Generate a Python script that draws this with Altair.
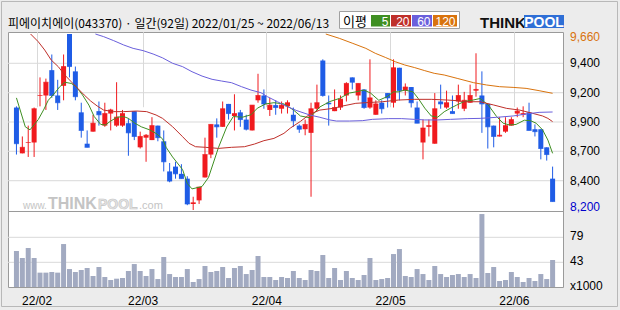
import json
import altair as alt
import pandas as pd

# ---------------- data ----------------
TITLE = "피에이치에이(043370) · 일간(92일) 2022/01/25 ~ 2022/06/13"

opens = [9050, 8670, 8760, 8760, 9150, 9150, 9360, 9150, 9230, 9660,
         9350, 9010, 8750, 8850, 9020, 8900, 9000, 8900, 8900, 8920,
         9020, 8720, 8800, 8780, 8900, 8770, 8520, 8560, 8500, 8460,
         8250, 8280, 8470, 8660, 8910, 8890, 9080, 8980, 9010, 8950,
         8860, 9110, 9150, 9030, 9070, 9040, 9060, 8990, 8900, 8870,
         8840, 9040, 9440, 9090, 9020, 9050, 9150, 9300, 9150, 9200,
         9050, 8990, 9090, 9170, 9090, 9380, 9190, 9220, 9050, 8760,
         8890, 8750, 9100, 9050, 9020, 9100, 9040, 9090, 9190, 9150,
         9080, 8900, 8810, 8850, 8900, 9000, 8990, 9010, 8870, 8870,
         8720, 8460]
highs = [9060, 8810, 8900, 9050, 9300, 9290, 9490, 9280, 9490, 9660,
         9390, 9090, 8860, 8990, 9100, 9090, 9040, 9260, 9030, 8960,
         9020, 8850, 8830, 8970, 8900, 8860, 8590, 8600, 8580, 8480,
         8310, 8390, 8800, 8910, 8960, 9100, 9080, 9160, 9030, 8990,
         9070, 9330, 9200, 9130, 9110, 9100, 9110, 9050, 8910, 8950,
         9090, 9240, 9450, 9150, 9200, 9150, 9260, 9300, 9250, 9200,
         9450, 9110, 9110, 9170, 9450, 9380, 9250, 9220, 9100, 8950,
         8950, 9170, 9240, 9190, 9150, 9240, 9180, 9240, 9500, 9350,
         9080, 8900, 8970, 8970, 8970, 9050, 9060, 9090, 8910, 8870,
         8720, 8560]
lows = [8660, 8670, 8640, 8640, 9060, 9030, 9130, 9030, 9110, 9300,
        9110, 8800, 8720, 8850, 8900, 8890, 8860, 8890, 8890, 8650,
        8780, 8710, 8600, 8780, 8770, 8520, 8430, 8460, 8460, 8240,
        8200, 8250, 8470, 8630, 8800, 8890, 8950, 8860, 8890, 8860,
        8860, 9090, 9040, 8980, 8990, 9000, 9000, 8890, 8840, 8820,
        8310, 9020, 9140, 8900, 9020, 9030, 9100, 9200, 9110, 9040,
        9040, 8990, 9000, 9050, 9050, 9110, 9150, 9050, 8920, 8620,
        8810, 8750, 9040, 9040, 9000, 9040, 9020, 9090, 9140, 8840,
        8710, 8720, 8810, 8840, 8900, 8970, 8970, 8860, 8810, 8620,
        8610, 8270]
closes = [8750, 8720, 8760, 9040, 9150, 9260, 9150, 9090, 9390, 9390,
          9140, 8860, 8720, 8920, 8990, 9000, 9030, 8970, 9000, 8840,
          8810, 8810, 8820, 8900, 8800, 8600, 8440, 8500, 8460, 8250,
          8260, 8390, 8660, 8910, 8890, 9040, 9000, 9000, 8950, 8870,
          9070, 9150, 9080, 9070, 9050, 9070, 9090, 8940, 8870, 8910,
          9040, 9090, 9150, 9080, 9050, 9120, 9250, 9260, 9250, 9050,
          9130, 9080, 9040, 9130, 9380, 9190, 9220, 9090, 8920, 8880,
          8900, 9040, 9080, 9090, 9000, 9150, 9110, 9150, 9200, 9080,
          8890, 8810, 8820, 8900, 8950, 9020, 9000, 8860, 8850, 8710,
          8660, 8270]
volumes = [59.3, 49.2, 63.6, 49.2, 28.1, 28.1, 29.0, 28.1, 69.3, 33.3,
           29.0, 31.9, 34.8, 23.3, 36.2, 21.8, 17.5, 19.4, 20.4, 30.5,
           40.5, 30.5, 23.3, 33.3, 18.9, 50.6, 26.1, 21.8, 21.8, 33.3,
           14.6, 18.9, 37.7, 29.0, 30.5, 36.2, 20.4, 34.8, 37.7, 26.1,
           31.9, 52.1, 21.8, 21.8, 17.5, 21.8, 20.4, 30.5, 20.4, 17.5,
           31.9, 30.5, 53.5, 20.4, 34.8, 17.5, 30.5, 20.4, 17.5, 24.7,
           49.2, 17.5, 18.9, 20.4, 54.9, 62.1, 23.3, 21.8, 33.3, 26.1,
           17.5, 37.7, 26.1, 21.8, 24.7, 26.1, 21.8, 26.1, 20.4, 112.5,
           27.6, 36.2, 16.1, 17.5, 29.0, 21.8, 14.6, 20.4, 16.1, 26.1,
           18.9, 46.3]

ma5_i = [0, 1.5, 2.3, 3.7, 4.6, 5.4, 6.5, 7.3, 8.2, 9.3, 10.1, 11.2, 12.3, 13.2,
         14.3, 15.1, 15.9, 17.1, 18.2, 19.0, 20.1, 21.2, 22.6, 23.7, 24.8, 25.4,
         26.5, 28.2, 29.0, 29.8, 31.5, 32.6, 34.3, 35.7, 36.8, 38.4, 39.8, 40.9,
         42.3, 43.7, 45.4, 47.0, 48.2, 49.8, 51.5, 53.2, 54.8, 56.5, 57.6, 59.0,
         60.1, 61.5, 62.9, 64.0, 64.8, 65.9, 67.3, 68.2, 69.3, 70.4, 71.5, 72.6,
         73.7, 74.7, 76.0, 77.3, 78.7, 80.1, 81.5, 82.6, 83.7, 84.8, 86.2, 87.3,
         88.2, 89.3, 90.2, 91.0]
ma5_p = [9130, 8890, 8865, 8950, 9030, 9110, 9170, 9220, 9260, 9250, 9225, 9155,
         9070, 8975, 8910, 8905, 8935, 8970, 8975, 8960, 8920, 8890, 8865, 8835,
         8790, 8720, 8640, 8535, 8420, 8375, 8395, 8470, 8720, 8890, 8975, 8970,
         8990, 9045, 9080, 9090, 9080, 9030, 8980, 8965, 9055, 9100, 9125, 9170,
         9180, 9195, 9170, 9110, 9140, 9180, 9180, 9195, 9180, 9125, 9045, 8980,
         8970, 9015, 9045, 9070, 9100, 9110, 9125, 9070, 8975, 8920, 8905, 8910,
         8945, 8940, 8920, 8865, 8780, 8670]

ma20_i = [2.4, 3.7, 4.8, 5.9, 7.1, 8.2, 9.3, 10.4, 11.5, 12.6, 13.7, 14.8, 16.5,
          18.2, 20.4, 22.1, 23.7, 24.8, 26.5, 28.2, 29.3, 30.4, 32.1, 34.3, 36.5,
          38.7, 40.4, 42.0, 43.7, 45.4, 46.5, 48.2, 49.8, 51.5, 53.7, 55.4, 57.6,
          59.3, 62.1, 64.8, 67.6, 70.4, 73.2, 74.8, 76.0, 78.7, 81.0, 83.2, 85.4,
          87.6, 89.3, 90.2, 91.0]
ma20_p = [9660, 9596, 9527, 9444, 9389, 9320, 9264, 9209, 9154, 9104, 9063, 9029,
          9016, 9016, 9021, 9016, 8988, 8960, 8891, 8808, 8753, 8725, 8720, 8711,
          8720, 8725, 8747, 8775, 8794, 8836, 8880, 8935, 8995, 9029, 9043, 9063,
          9085, 9090, 9098, 9112, 9118, 9118, 9112, 9107, 9098, 9098, 9071, 9043,
          9029, 9002, 8980, 8960, 8933]

ma60_i = [13.4, 14.8, 16.5, 18.2, 19.8, 21.5, 23.2, 24.8, 26.5, 28.2, 29.8, 31.5,
          33.2, 34.8, 36.5, 38.2, 39.8, 41.5, 42.6, 44.3, 46.0, 47.6, 49.8, 51.5,
          53.2, 54.3, 56.5, 58.7, 60.4, 63.2, 65.4, 67.6, 69.3, 71.5, 73.7, 76.5,
          78.7, 81.5, 84.3, 86.5, 88.7, 91.0]
ma60_p = [9660, 9638, 9605, 9569, 9541, 9522, 9494, 9462, 9417, 9389, 9347, 9311,
          9284, 9270, 9256, 9223, 9195, 9173, 9140, 9098, 9057, 9024, 8988, 8969,
          8947, 8938, 8938, 8941, 8952, 8958, 8958, 8952, 8947, 8947, 8952, 8958,
          8960, 8969, 8980, 8996, 9010, 9013]

ma120_i = [52.5, 54.8, 57.1, 59.3, 60.9, 62.6, 64.3, 65.9, 67.6, 69.3, 70.9, 72.6,
           74.8, 77.6, 79.8, 82.0, 84.3, 86.5, 88.7, 91.0]
ma120_p = [9660, 9624, 9582, 9541, 9500, 9466, 9430, 9403, 9381, 9356, 9334, 9320,
           9292, 9256, 9237, 9223, 9217, 9209, 9190, 9168]

month_pos = [3.5, 21.5, 42.5, 63.5, 84.5]
month_labels = ["22/02", "22/03", "22/04", "22/05", "22/06"]
price_min, price_max = 8200, 9660
price_grid = [8443, 8687, 8930, 9173, 9417]
price_grid_labels = ["8,400", "8,700", "8,900", "9,200", "9,400"]
price_min_label, price_max_label = "8,200", "9,660"
vol_floor = 7
vol_grid = [43, 79]
vol_labels = ["43", "79"]
vol_unit_label = "x1000"
ma_names = ["5", "20", "60", "120"]
legend_word = "이평"

# ---------------- styles ----------------
RED = "#f01a1e"
BLUE = "#1f5ce6"
MA_COLORS = ["#3f8f22", "#bf2f2a", "#6a5fdc", "#d9730d"]
VOL_COLOR = "#a2aac1"
GRID = "#d9d9d9"
FRAME = "#9a9a9a"
FONT = "Liberation Sans"
KFONT = "Noto Sans CJK KR"

W, H = 555, 255

df = pd.DataFrame({"i": list(range(len(opens))), "o": opens, "h": highs,
                   "l": lows, "c": closes, "v": volumes})
df["dir"] = ["up" if c >= o else "down" for o, c in zip(opens, closes)]

x_scale = alt.Scale(domain=[-0.5, 92], nice=False, zero=False)
p_scale = alt.Scale(domain=[price_min, price_max], range=[178, 2], nice=False, zero=False)
v_scale = alt.Scale(domain=[vol_floor, 115], range=[255.3, 180.3], nice=False, zero=False)

x_axis = alt.Axis(
    values=month_pos,
    labelExpr=f"{json.dumps(month_labels)}[indexof({json.dumps(month_pos)}, datum.value)]",
    grid=True, gridColor=GRID, domain=False, ticks=False, labelPadding=8,
    labelFont=FONT, labelFontSize=12, labelColor="#000", labelFlush=False, title=None,
)
X = alt.X("i:Q", scale=x_scale, axis=x_axis)
COLOR = alt.Color("dir:N", scale=alt.Scale(domain=["up", "down"], range=[RED, BLUE]), legend=None)

one = pd.DataFrame({"k": [0]})

layers = []

# horizontal gridlines (price and volume)
layers.append(alt.Chart(pd.DataFrame({"p": price_grid})).mark_rule(color=GRID).encode(
    y=alt.Y("p:Q", scale=p_scale, axis=None), x=alt.value(0), x2=alt.value(W)))
layers.append(alt.Chart(pd.DataFrame({"v": vol_grid})).mark_rule(color=GRID).encode(
    y=alt.Y("v:Q", scale=v_scale, axis=None), x=alt.value(0), x2=alt.value(W)))

# watermark
wm = [("www.", 15, 10, "normal", "#c4c4c4", None),
      ("THINK", 40, 16, "bold", "#c4c4c4", None),
      ("POOL", 90, 14, "bold", "#e4e4e4", "#c4c4c4"),
      (".com", 131, 11, "normal", "#c4c4c4", None)]
for txt, xx, fs, fw, col, stk in wm:
    kw = dict(align="left", baseline="alphabetic", font=FONT, fontSize=fs,
              fontWeight=fw, color=col)
    if stk:
        kw.update(stroke=stk, strokeWidth=0.6)
    layers.append(alt.Chart(pd.DataFrame({"t": [txt]})).mark_text(**kw).encode(
        text="t:N", x=alt.value(xx), y=alt.value(177)))

# volume bars
layers.append(alt.Chart(df).mark_bar(size=5, xOffset=0.5, clip=True, color=VOL_COLOR).encode(
    x=X, y=alt.Y("v:Q", scale=v_scale, axis=None), y2=alt.datum(vol_floor)))

# candles
layers.append(alt.Chart(df).mark_rule(strokeWidth=1, xOffset=0.5, clip=True).encode(
    x=X, y=alt.Y("l:Q", scale=p_scale, axis=None), y2="h:Q", color=COLOR))
layers.append(alt.Chart(df).mark_bar(size=5, xOffset=0.5, clip=True).encode(
    x=X, y=alt.Y("o:Q", scale=p_scale, axis=None), y2="c:Q", color=COLOR))
layers.append(alt.Chart(df).mark_tick(size=5, thickness=1, orient="horizontal", xOffset=0.5, clip=True).encode(
    x=X, y=alt.Y("c:Q", scale=p_scale, axis=None), color=COLOR))

# moving averages
for (mi, mp), col in zip([(ma5_i, ma5_p), (ma20_i, ma20_p), (ma60_i, ma60_p), (ma120_i, ma120_p)], MA_COLORS):
    layers.append(alt.Chart(pd.DataFrame({"i": mi, "p": mp})).mark_line(
        strokeWidth=1, color=col, clip=True, xOffset=0.5).encode(
        x=X, y=alt.Y("p:Q", scale=p_scale, axis=None)))

# separator between price and volume panels
layers.append(alt.Chart(one).mark_rule(color=FRAME).encode(
    y=alt.value(179.5), x=alt.value(0), x2=alt.value(W)))

# right-side labels
layers.append(alt.Chart(pd.DataFrame({"p": price_grid, "t": price_grid_labels})).mark_text(
    align="left", baseline="middle", font=FONT, fontSize=12, color="#000").encode(
    y=alt.Y("p:Q", scale=p_scale, axis=None), x=alt.value(W + 7), text="t:N"))
layers.append(alt.Chart(pd.DataFrame({"p": [price_max], "t": [price_max_label]})).mark_text(
    align="left", baseline="middle", dy=3, font=FONT, fontSize=12, color=MA_COLORS[3]).encode(
    y=alt.Y("p:Q", scale=p_scale, axis=None), x=alt.value(W + 7), text="t:N"))
layers.append(alt.Chart(pd.DataFrame({"p": [price_min], "t": [price_min_label]})).mark_text(
    align="left", baseline="middle", dy=-3, font=FONT, fontSize=12, color="#0000cc").encode(
    y=alt.Y("p:Q", scale=p_scale, axis=None), x=alt.value(W + 7), text="t:N"))
layers.append(alt.Chart(pd.DataFrame({"v": vol_grid + [vol_floor], "t": vol_labels + [vol_unit_label]})).mark_text(
    align="left", baseline="middle", dy=-1, font=FONT, fontSize=12, color="#000").encode(
    y=alt.Y("v:Q", scale=v_scale, axis=None), x=alt.value(W + 7), text="t:N"))

# outer frame
layers.append(alt.Chart(one).mark_rect(fill=None, stroke="#b8b8b8", strokeWidth=1).encode(
    x=alt.value(-6.5), x2=alt.value(609.5), y=alt.value(-30.5), y2=alt.value(274.5)))

# header title
layers.append(alt.Chart(pd.DataFrame({"t": [TITLE]})).mark_text(
    align="left", baseline="alphabetic", font=KFONT, fontSize=12, color="#000").encode(
    text="t:N", x=alt.value(0), y=alt.value(-4.5)))

# MA legend box
layers.append(alt.Chart(one).mark_rect(fill="white", stroke="#a0a0a0", strokeWidth=1).encode(
    x=alt.value(331.5), x2=alt.value(451.5), y=alt.value(-20.5), y2=alt.value(-3.5)))
layers.append(alt.Chart(pd.DataFrame({"t": [legend_word]})).mark_text(
    align="left", baseline="alphabetic", font=KFONT, fontSize=13, color="#000").encode(
    text="t:N", x=alt.value(335), y=alt.value(-6)))
box_x = [(363, 382), (383, 403), (404, 424), (425, 449)]
for (x0, x1), name, col in zip(box_x, ma_names, MA_COLORS):
    layers.append(alt.Chart(one).mark_rect(color=col).encode(
        x=alt.value(x0), x2=alt.value(x1), y=alt.value(-17), y2=alt.value(-5.5)))
    layers.append(alt.Chart(pd.DataFrame({"t": [name]})).mark_text(
        align="right", baseline="alphabetic", font=FONT, fontSize=12, color="white").encode(
        text="t:N", x=alt.value(x1 - 1.5), y=alt.value(-6.5)))

# THINKPOOL logo
layers.append(alt.Chart(pd.DataFrame({"t": ["THINK"]})).mark_text(
    align="left", baseline="alphabetic", font=FONT, fontSize=15, fontWeight="bold", color="#111").encode(
    text="t:N", x=alt.value(472), y=alt.value(-4.5)))
layers.append(alt.Chart(one).mark_rect(color="#2f6fd6").encode(
    x=alt.value(516), x2=alt.value(556), y=alt.value(-17), y2=alt.value(-4)))
layers.append(alt.Chart(pd.DataFrame({"t": ["POOL"]})).mark_text(
    align="center", baseline="alphabetic", font=FONT, fontSize=14, fontWeight="bold", color="white").encode(
    text="t:N", x=alt.value(536), y=alt.value(-5)))

chart = alt.layer(*layers).resolve_scale(y="independent").properties(
    width=W, height=H,
    padding={"left": 8, "top": 32, "right": 620 - 8 - W, "bottom": 310 - 32 - H},
    autosize=alt.AutoSizeParams(type="none"),
    background="#ececec",
).configure_view(stroke=FRAME, strokeWidth=1, fill="white")

chart.save("out.html", embed_options={"renderer": "svg", "actions": False})
